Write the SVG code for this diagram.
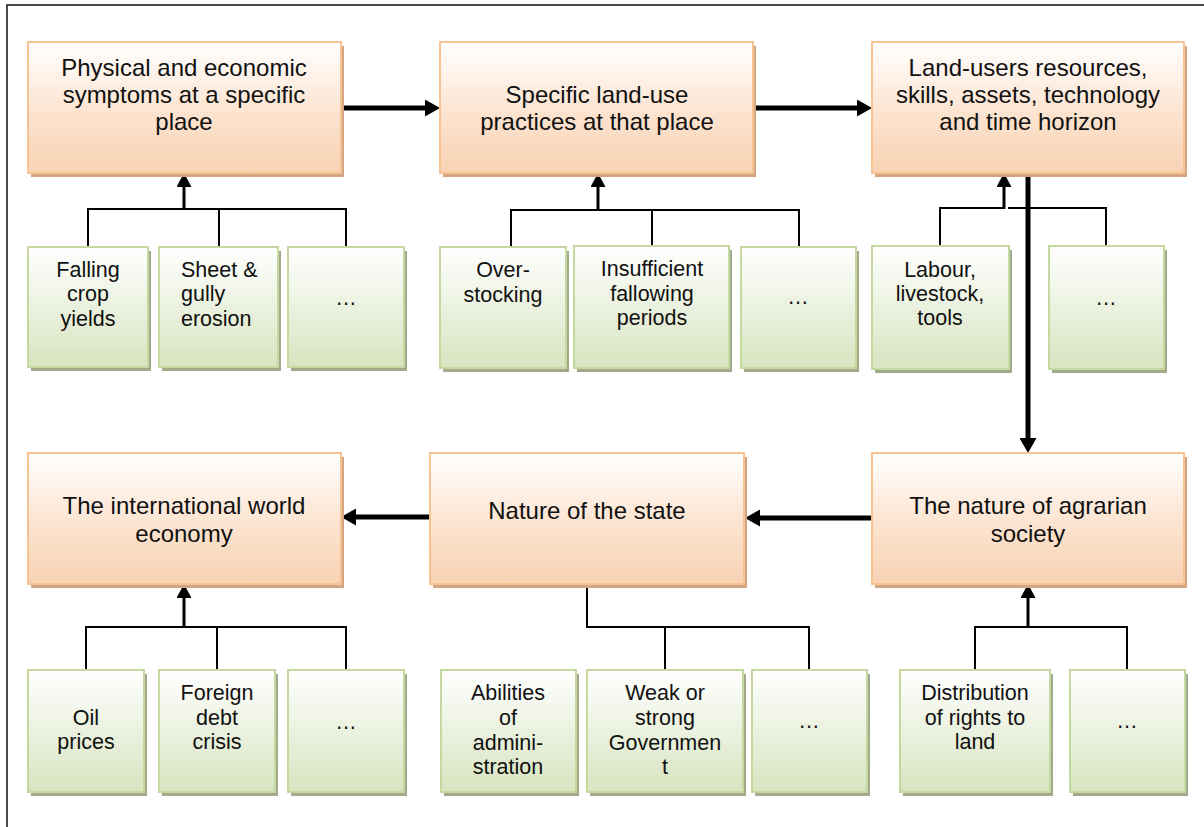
<svg xmlns="http://www.w3.org/2000/svg" width="1204" height="827" viewBox="0 0 1204 827">
  <defs>
    <linearGradient id="gradOrange" x1="0" y1="0" x2="0" y2="1">
      <stop offset="0" stop-color="#ffffff"/>
      <stop offset="0.55" stop-color="#fce3cf"/>
      <stop offset="1" stop-color="#f8d2b3"/>
    </linearGradient>
    <linearGradient id="gradGreen" x1="0" y1="0" x2="0" y2="1">
      <stop offset="0" stop-color="#ffffff"/>
      <stop offset="0.55" stop-color="#e9f0dc"/>
      <stop offset="1" stop-color="#d8e4c0"/>
    </linearGradient>
    <marker id="headBig" markerUnits="userSpaceOnUse" markerWidth="16" markerHeight="17" refX="3" refY="8.5" orient="auto">
      <path d="M0,0 L15,8.5 L0,17 z" fill="#000"/>
    </marker>
    <marker id="headSmall" markerUnits="userSpaceOnUse" markerWidth="15" markerHeight="15" refX="3" refY="7.5" orient="auto">
      <path d="M0,0 L14,7.5 L0,15 z" fill="#000"/>
    </marker>
  </defs>
  <style>
    .main .shadow { fill: #d3a582; }
    .main .box { fill: url(#gradOrange); stroke: #f8c393; stroke-width: 2; }
    .sub .shadow { fill: #a3aa8c; }
    .sub .box { fill: url(#gradGreen); stroke: #c5d89f; stroke-width: 2; }
    text { font-family: "Liberation Sans", Arial, sans-serif; fill: #111; }
    .main text { font-size: 24px; text-anchor: middle; }
    .sub text { font-size: 21.5px; text-anchor: middle; }
    .sub text.left { text-anchor: start; }
    .big { stroke: #000; stroke-width: 5; fill: none; marker-end: url(#headBig); }
    .stem { stroke: #000; stroke-width: 3; fill: none; marker-end: url(#headSmall); }
    .branch { stroke: #000; stroke-width: 2; fill: none; }
    .frame { fill: none; stroke: #111; stroke-width: 1.5; }
  </style>

  <rect class="frame" x="7" y="5" width="1205" height="830"/>

  <!-- connectors -->
  <g id="connectors">
    <line class="big" x1="341" y1="108" x2="428" y2="108"/>
    <line class="big" x1="753" y1="108" x2="860" y2="108"/>
    <line class="big" x1="1028" y1="173" x2="1028" y2="441"/>
    <line class="big" x1="872" y1="518" x2="757" y2="518"/>
    <line class="big" x1="430" y1="517" x2="353" y2="517"/>

    <path class="branch" d="M88,247 V209 H346 V247 M219,209 V247"/>
    <line class="stem" x1="184" y1="210" x2="184" y2="184"/>

    <path class="branch" d="M511,247 V210 H799 V247 M652,210 V247"/>
    <line class="stem" x1="598" y1="211" x2="598" y2="184"/>

    <path class="branch" d="M940,246 V208 H1004 M1008,208 H1106 V246"/>
    <line class="stem" x1="1004" y1="209" x2="1004" y2="184"/>

    <path class="branch" d="M86,670 V627 H346 V670 M217,627 V670"/>
    <line class="stem" x1="184" y1="628" x2="184" y2="595"/>

    <path class="branch" d="M587,584 V627 H809 V670 M665,627 V670"/>

    <path class="branch" d="M975,670 V627 H1127 V670"/>
    <line class="stem" x1="1028" y1="628" x2="1028" y2="595"/>
  </g>

  <!-- main factors -->
  <g id="physical-symptoms" class="main">
    <rect class="shadow" x="31" y="46" width="313" height="131"/>
    <rect class="box" x="28" y="42" width="313" height="131"/>
    <text x="184" y="76">Physical and economic</text>
    <text x="184" y="103">symptoms at a specific</text>
    <text x="184" y="130">place</text>
  </g>
  <g id="land-use-practices" class="main">
    <rect class="shadow" x="443" y="46" width="313" height="131"/>
    <rect class="box" x="440" y="42" width="313" height="131"/>
    <text x="597" y="103">Specific land-use</text>
    <text x="597" y="130">practices at that place</text>
  </g>
  <g id="land-users-resources" class="main">
    <rect class="shadow" x="875" y="46" width="312" height="131"/>
    <rect class="box" x="872" y="42" width="312" height="131"/>
    <text x="1028" y="76">Land-users resources,</text>
    <text x="1028" y="103">skills, assets, technology</text>
    <text x="1028" y="130">and time horizon</text>
  </g>
  <g id="world-economy" class="main">
    <rect class="shadow" x="31" y="457" width="313" height="131"/>
    <rect class="box" x="28" y="453" width="313" height="131"/>
    <text x="184" y="514">The international world</text>
    <text x="184" y="542">economy</text>
  </g>
  <g id="nature-of-state" class="main">
    <rect class="shadow" x="433" y="457" width="314" height="131"/>
    <rect class="box" x="430" y="453" width="314" height="131"/>
    <text x="587" y="519">Nature of the state</text>
  </g>
  <g id="agrarian-society" class="main">
    <rect class="shadow" x="875" y="457" width="312" height="131"/>
    <rect class="box" x="872" y="453" width="312" height="131"/>
    <text x="1028" y="514">The nature of agrarian</text>
    <text x="1028" y="542">society</text>
  </g>

  <!-- contributing items -->
  <g id="falling-crop-yields" class="sub">
    <rect class="shadow" x="31" y="251" width="120" height="120"/>
    <rect class="box" x="28" y="247" width="120" height="120"/>
    <text x="88" y="277">Falling</text>
    <text x="88" y="301">crop</text>
    <text x="88" y="326">yields</text>
  </g>
  <g id="sheet-gully-erosion" class="sub">
    <rect class="shadow" x="162" y="251" width="119" height="120"/>
    <rect class="box" x="159" y="247" width="119" height="120"/>
    <text class="left" x="181" y="277">Sheet &amp;</text>
    <text class="left" x="181" y="301">gully</text>
    <text class="left" x="181" y="326">erosion</text>
  </g>
  <g id="symptoms-more" class="sub">
    <rect class="shadow" x="291" y="251" width="116" height="120"/>
    <rect class="box" x="288" y="247" width="116" height="120"/>
    <text x="346" y="305">…</text>
  </g>

  <g id="over-stocking" class="sub">
    <rect class="shadow" x="443" y="251" width="126" height="121"/>
    <rect class="box" x="440" y="247" width="126" height="121"/>
    <text x="503" y="277">Over-</text>
    <text x="503" y="302">stocking</text>
  </g>
  <g id="insufficient-fallowing" class="sub">
    <rect class="shadow" x="577" y="250" width="155" height="122"/>
    <rect class="box" x="574" y="246" width="155" height="122"/>
    <text x="652" y="276">Insufficient</text>
    <text x="652" y="301">fallowing</text>
    <text x="652" y="325">periods</text>
  </g>
  <g id="practices-more" class="sub">
    <rect class="shadow" x="744" y="251" width="115" height="121"/>
    <rect class="box" x="741" y="247" width="115" height="121"/>
    <text x="798" y="304">…</text>
  </g>

  <g id="labour-livestock-tools" class="sub">
    <rect class="shadow" x="875" y="250" width="137" height="123"/>
    <rect class="box" x="872" y="246" width="137" height="123"/>
    <text x="940" y="277">Labour,</text>
    <text x="940" y="301">livestock,</text>
    <text x="940" y="325">tools</text>
  </g>
  <g id="resources-more" class="sub">
    <rect class="shadow" x="1052" y="250" width="115" height="123"/>
    <rect class="box" x="1049" y="246" width="115" height="123"/>
    <text x="1106" y="305">…</text>
  </g>

  <g id="oil-prices" class="sub">
    <rect class="shadow" x="31" y="674" width="116" height="122"/>
    <rect class="box" x="28" y="670" width="116" height="122"/>
    <text x="86" y="725">Oil</text>
    <text x="86" y="749">prices</text>
  </g>
  <g id="foreign-debt-crisis" class="sub">
    <rect class="shadow" x="162" y="674" width="116" height="122"/>
    <rect class="box" x="159" y="670" width="116" height="122"/>
    <text x="217" y="700">Foreign</text>
    <text x="217" y="725">debt</text>
    <text x="217" y="749">crisis</text>
  </g>
  <g id="economy-more" class="sub">
    <rect class="shadow" x="291" y="674" width="116" height="122"/>
    <rect class="box" x="288" y="670" width="116" height="122"/>
    <text x="346" y="729">…</text>
  </g>

  <g id="abilities-administration" class="sub">
    <rect class="shadow" x="444" y="674" width="135" height="122"/>
    <rect class="box" x="441" y="670" width="135" height="122"/>
    <text x="508" y="700">Abilities</text>
    <text x="508" y="725">of</text>
    <text x="508" y="750">admini-</text>
    <text x="508" y="774">stration</text>
  </g>
  <g id="weak-strong-government" class="sub">
    <rect class="shadow" x="590" y="674" width="156" height="122"/>
    <rect class="box" x="587" y="670" width="156" height="122"/>
    <text x="665" y="700">Weak or</text>
    <text x="665" y="725">strong</text>
    <text x="665" y="750">Governmen</text>
    <text x="665" y="774">t</text>
  </g>
  <g id="state-more" class="sub">
    <rect class="shadow" x="755" y="674" width="115" height="122"/>
    <rect class="box" x="752" y="670" width="115" height="122"/>
    <text x="809" y="728">…</text>
  </g>

  <g id="rights-to-land" class="sub">
    <rect class="shadow" x="903" y="674" width="150" height="122"/>
    <rect class="box" x="900" y="670" width="150" height="122"/>
    <text x="975" y="700">Distribution</text>
    <text x="975" y="725">of rights to</text>
    <text x="975" y="749">land</text>
  </g>
  <g id="society-more" class="sub">
    <rect class="shadow" x="1073" y="674" width="115" height="122"/>
    <rect class="box" x="1070" y="670" width="115" height="122"/>
    <text x="1127" y="728">…</text>
  </g>
</svg>
